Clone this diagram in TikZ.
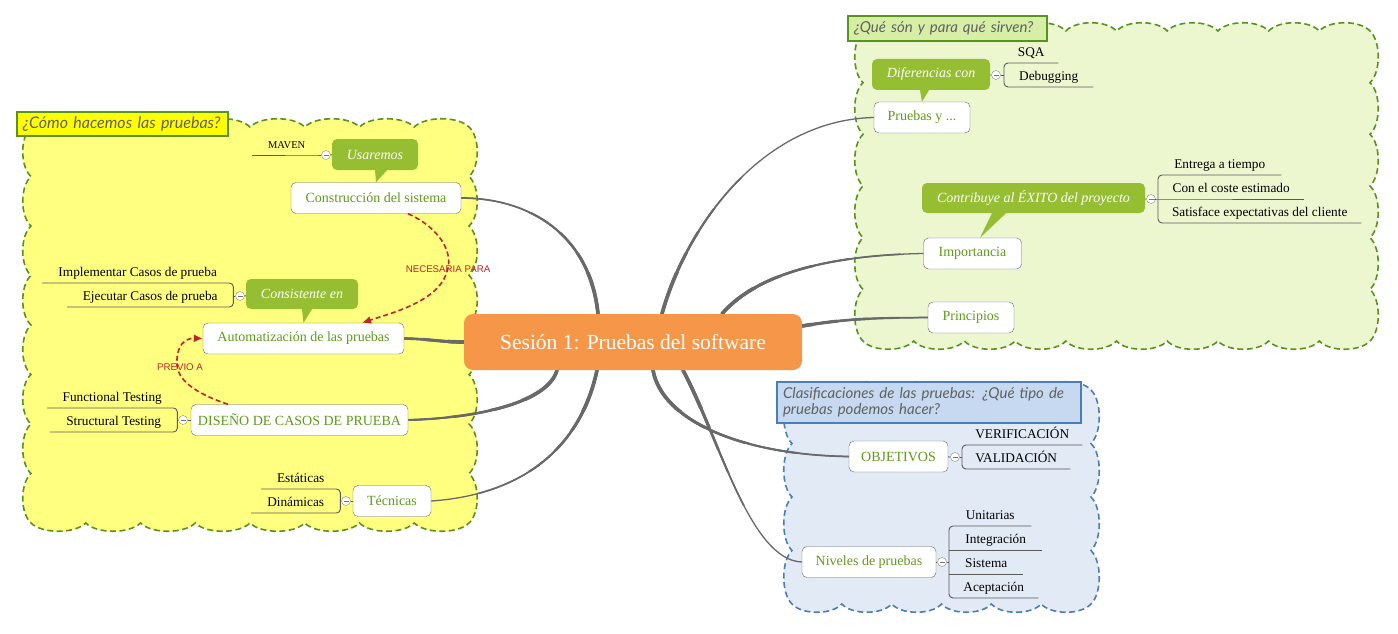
\documentclass[tikz,border=0pt]{standalone}
\usepackage{fontspec}
\setmainfont{Liberation Serif}
\newfontfamily\titlefont{Lato}
\newfontfamily\relfont{Liberation Sans}
\usetikzlibrary{arrows.meta,backgrounds}
\definecolor{topicgreen}{RGB}{95,155,25}
\definecolor{callgreen}{RGB}{150,190,50}
\definecolor{framegreen}{RGB}{88,148,28}
\definecolor{cloudyellow}{RGB}{255,255,128}
\definecolor{cloudgreen}{RGB}{236,247,208}
\definecolor{cloudblue}{RGB}{226,234,246}
\definecolor{frameblue}{RGB}{74,126,187}
\definecolor{titleyellow}{RGB}{255,255,0}
\definecolor{titlegreen}{RGB}{214,238,165}
\definecolor{titleblue}{RGB}{198,217,240}
\definecolor{centralorange}{RGB}{245,150,72}
\definecolor{relred}{RGB}{200,32,42}
\definecolor{branchgray}{RGB}{105,105,105}
\tikzstyle{topic}=[draw=black!60, fill=white, rounded corners=5pt, text=topicgreen, font=\fontsize{14}{16}\selectfont, minimum height=31pt, inner sep=0pt]
\tikzstyle{central}=[fill=centralorange, rounded corners=9pt, text=white, font=\fontsize{21.5}{24}\selectfont, minimum width=338pt, minimum height=56pt, inner sep=0pt]
\tikzstyle{callout}=[fill=callgreen, rounded corners=5pt, text=white, font=\fontsize{14}{16}\selectfont\itshape, minimum height=30pt, inner sep=0pt]
\tikzstyle{leaf}=[anchor=south west, font=\fontsize{13.3}{15}\selectfont, inner xsep=0pt, inner ysep=3.5pt, text height=9pt, text depth=3pt]
\tikzstyle{fold}=[circle, draw=black!45, fill=white, minimum size=9pt, inner sep=0pt, path picture={\draw[black!55] ([xshift=-2.5pt]path picture bounding box.center) -- ([xshift=2.5pt]path picture bounding box.center);}]
\tikzstyle{leafline}=[draw=black!65, line width=0.9pt, rounded corners=4pt]
\tikzstyle{title}=[anchor=north west, line width=2pt, text=black!62, inner xsep=6pt, inner ysep=0pt, align=left, font=\titlefont\itshape\fontsize{16}{18}\selectfont]
\tikzstyle{cloud}=[line width=1.6pt, dash pattern=on 6pt off 3.5pt]
\tikzstyle{branch}=[draw=branchgray, line cap=round]
\tikzstyle{rel}=[draw=relred, line width=1.6pt, dash pattern=on 5pt off 3pt, -{Latex[length=9pt,width=8pt]}]
\tikzstyle{rellabel}=[text=relred, font=\relfont\fontsize{9.7}{11}\selectfont, inner sep=1pt]
\newcommand\cloudpath[7]{(#1,#2)
 \foreach \k in {1,...,#5}{ .. controls ({#1+(\k-0.8)*(#3-#1)/#5},{#2-#7}) and ({#1+(\k-0.2)*(#3-#1)/#5},{#2-#7}) .. ({#1+\k*(#3-#1)/#5},#2)}
 \foreach \k in {1,...,#6}{ .. controls ({#3+#7},{#2+(\k-0.8)*(#4-#2)/#6}) and ({#3+#7},{#2+(\k-0.2)*(#4-#2)/#6}) .. (#3,{#2+\k*(#4-#2)/#6})}
 \foreach \k in {1,...,#5}{ .. controls ({#3-(\k-0.8)*(#3-#1)/#5},{#4+#7}) and ({#3-(\k-0.2)*(#3-#1)/#5},{#4+#7}) .. ({#3-\k*(#3-#1)/#5},#4)}
 \foreach \k in {1,...,#6}{ .. controls ({#1-#7},{#4-(\k-0.8)*(#4-#2)/#6}) and ({#1-#7},{#4-(\k-0.2)*(#4-#2)/#6}) .. (#1,{#4-\k*(#4-#2)/#6})}
 -- cycle}
\newcommand\branchpaths{(con.east) .. controls (530,198) and (590,235) .. ([xshift=-35pt]ctr.north)
 (aut.east) .. controls (430,339) and (440,342) .. (ctr.west)
 (dis.east) .. controls (480,418) and (548,402) .. ([xshift=-76pt]ctr.south)
 (tec.east) .. controls (520,495) and (580,450) .. ([xshift=-36pt]ctr.south)
 (pru.west) .. controls (760,120) and (685,230) .. ([xshift=29pt]ctr.north)
 (imp.west) .. controls (840,255) and (760,270) .. ([xshift=89pt]ctr.north)
 (pri.west) .. controls (880,318) and (850,318) .. ([yshift=16pt]ctr.east)
 (obj.west) .. controls (740,455) and (662,420) .. ([xshift=20pt]ctr.south)
 (niv.west) .. controls (750,560) and (720,440) .. ([xshift=50pt]ctr.south)}

\begin{document}
\begin{tikzpicture}[x=1pt,y=-1pt]
  \useasboundingbox (0,0) rectangle (1398,634);
  \node[central] (ctr) at (633,342) {Sesión 1: Pruebas del software};

  \node[topic, minimum width=170pt] (con) at (376,198) {Construcción del sistema};
  \node[topic, minimum width=201pt] (aut) at (303.5,338.5) {Automatización de las pruebas};
  \node[topic, minimum width=217pt] (dis) at (299.5,420) {DISEÑO DE CASOS DE PRUEBA};
  \node[topic, minimum width=78pt] (tec) at (392,501) {Técnicas};
  \node[topic, minimum width=96pt] (pru) at (922,117.5) {Pruebas y ...};
  \node[topic, minimum width=98pt] (imp) at (972.5,253.5) {Importancia};
  \node[topic, minimum width=86pt] (pri) at (971,317.5) {Principios};
  \node[topic, minimum width=99pt] (obj) at (898.5,456.5) {OBJETIVOS};
  \node[topic, minimum width=134pt] (niv) at (869,562) {Niveles de pruebas};

  \node[callout, minimum width=86pt, minimum height=31pt] (usa) at (375,154.5) {Usaremos};
  \node[callout, minimum width=112pt] (cen) at (302,294) {Consistente en};
  \node[callout, minimum width=118pt, minimum height=31pt] (dif) at (931,74.5) {Diferencias con};
  \node[callout, minimum width=223pt] (exi) at (1033.5,198) {Contribuye al ÉXITO del proyecto};
  \fill[callgreen] (usa.south) -- ([xshift=12pt]usa.south) -- (con.north) -- cycle;
  \fill[callgreen] (cen.south) -- ([xshift=10pt]cen.south) -- (aut.north) -- cycle;
  \fill[callgreen] ([xshift=-11pt]dif.south) -- ([xshift=-2pt]dif.south) -- (pru.north) -- cycle;
  \fill[callgreen] ([xshift=-41.5pt]exi.south) -- ([xshift=-27.5pt]exi.south) -- ([xshift=7.5pt]imp.north) -- cycle;

  \node[fold] (fmav) at (326,155) {};
  \node[fold] (fcen) at (240,296) {};
  \node[fold] (fdis) at (183,420) {};
  \node[fold] (ftec) at (346,501) {};
  \node[fold] (fdif) at (996,75) {};
  \node[fold] (fexi) at (1151,199) {};
  \node[fold] (fobj) at (955,457) {};
  \node[fold] (fniv) at (942,562) {};
  \draw[leafline] (fmav) -- (usa);
  \draw[leafline] (fcen) -- (cen);
  \draw[leafline] (fdis) -- (dis);
  \draw[leafline] (ftec) -- (tec);
  \draw[leafline] (fdif) -- (dif);
  \draw[leafline] (fexi) -- (exi);
  \draw[leafline] (fobj) -- (obj);
  \draw[leafline] (fniv) -- (niv);

  \node[leaf, minimum width=69pt, font=\fontsize{10.5}{12}\selectfont] (mav) at (252,155) {MAVEN};
  \draw[leafline] (mav.south west) -- (mav.south east) -- (fmav);
  \node[leaf, minimum width=191pt] (impl) at (42,283) {Implementar Casos de prueba};
  \node[leaf, minimum width=166pt] (ejec) at (67,307) {Ejecutar Casos de prueba};
  \draw[leafline] (impl.south west) -- (impl.south east) -- (ejec.south east) -- (ejec.south west);
  \draw[leafline] (fcen) -- (fcen -| impl.south east);
  \node[leaf, minimum width=130pt] (func) at (47,408) {Functional Testing};
  \node[leaf, minimum width=127pt] (stru) at (50,432) {Structural Testing};
  \draw[leafline] (func.south west) -- (func.south east) -- (stru.south east) -- (stru.south west);
  \draw[leafline] (fdis) -- (fdis -| func.south east);
  \node[leaf, minimum width=79pt] (esta) at (261,489) {Estáticas};
  \node[leaf, minimum width=89pt] (dina) at (251,513) {Dinámicas};
  \draw[leafline] (esta.south west) -- (esta.south east) -- (dina.south east) -- (dina.south west);
  \draw[leafline] (ftec) -- (ftec -| esta.south east);

  \node[leaf, minimum width=54pt] (sqa) at (1004,63) {SQA};
  \node[leaf, minimum width=89pt] (debu) at (1004,87) {Debugging};
  \draw[leafline] (sqa.south east) -- (sqa.south west) -- (debu.south west) -- (debu.south east);
  \draw[leafline] (fdif) -- (fdif -| sqa.south west);
  \node[leaf, minimum width=123pt] (entr) at (1158,175) {Entrega a tiempo};
  \node[leaf, minimum width=146pt] (cost) at (1158,199) {Con el coste estimado};
  \node[leaf, minimum width=203pt] (sati) at (1158,223) {Satisface expectativas del cliente};
  \draw[leafline] (entr.south east) -- (entr.south west) -- (sati.south west) -- (sati.south east);
  \draw[leafline] (fexi) -- (cost.south west) -- (cost.south east);
  \node[leaf, minimum width=120pt] (veri) at (962,445) {VERIFICACIÓN};
  \node[leaf, minimum width=108pt] (vali) at (962,469) {VALIDACIÓN};
  \draw[leafline] (veri.south east) -- (veri.south west) -- (vali.south west) -- (vali.south east);
  \draw[leafline] (fobj) -- (fobj -| veri.south west);
  \node[leaf, minimum width=82pt] (unit) at (949,526) {Unitarias};
  \node[leaf, minimum width=93pt] (inte) at (949,550) {Integración};
  \node[leaf, minimum width=74pt] (sist) at (949,574) {Sistema};
  \node[leaf, minimum width=89pt] (acep) at (949,598) {Aceptación};
  \draw[leafline] (unit.south east) -- (unit.south west) -- (acep.south west) -- (acep.south east);
  \draw[leafline] (inte.south west) -- (inte.south east);
  \draw[leafline] (sist.south west) -- (sist.south east);
  \draw[leafline] (fniv) -- (fniv -| unit.south west);

  \node[title, fill=titleyellow, draw=framegreen, text width=199pt, minimum height=24pt] (tyel) at (16,111) {¿Cómo hacemos las pruebas?};
  \node[title, fill=titlegreen, draw=framegreen, text width=187pt, minimum height=25pt, font=\titlefont\itshape\fontsize{15}{17}\selectfont] (tgre) at (847,15) {¿Qué són y para qué sirven?};
  \node[title, fill=titleblue, draw=frameblue, text width=292pt, minimum height=41pt, font=\titlefont\itshape\fontsize{15}{16.5}\selectfont] (tblu) at (776,381) {Clasificaciones de las pruebas: ¿Qué tipo de\\pruebas podemos hacer?};

  \draw[rel] ([xshift=32pt]con.south) .. controls (440,228) and (452,252) .. (448,268) .. controls (442,300) and (395,312) .. ([xshift=58.5pt]aut.north);
  \node[rellabel] (nec) at (448,269) {NECESARIA PARA};
  \draw[rel] ([xshift=-71.5pt]dis.north) .. controls (200,395) and (178,382) .. (177,365) .. controls (176,345) and (185,338) .. (aut.west);
  \node[rellabel] (pre) at (180,367) {PREVIO A};

  \begin{scope}[on background layer]
    \draw[cloud, draw=framegreen, fill=cloudyellow] \cloudpath{31}{127}{469}{523}{8}{8}{11};
    \draw[cloud, draw=framegreen, fill=cloudgreen] \cloudpath{863}{31}{1370}{341}{10}{6}{11};
    \draw[cloud, draw=frameblue, fill=cloudblue] \cloudpath{792}{390}{1091}{604}{6}{4}{11};
    \draw[branch, line width=1.3pt] \branchpaths;
    \foreach \rx/\ry/\lw in {310/175/1.7, 270/140/2.1, 240/115/2.6, 210/92/3.1, 185/72/3.7}{
      \begin{scope}
        \clip (ctr.center) ellipse [x radius=\rx pt, y radius=\ry pt];
        \draw[branch, line width=\lw pt] \branchpaths;
      \end{scope}
    }
  \end{scope}
\end{tikzpicture}
\end{document}
